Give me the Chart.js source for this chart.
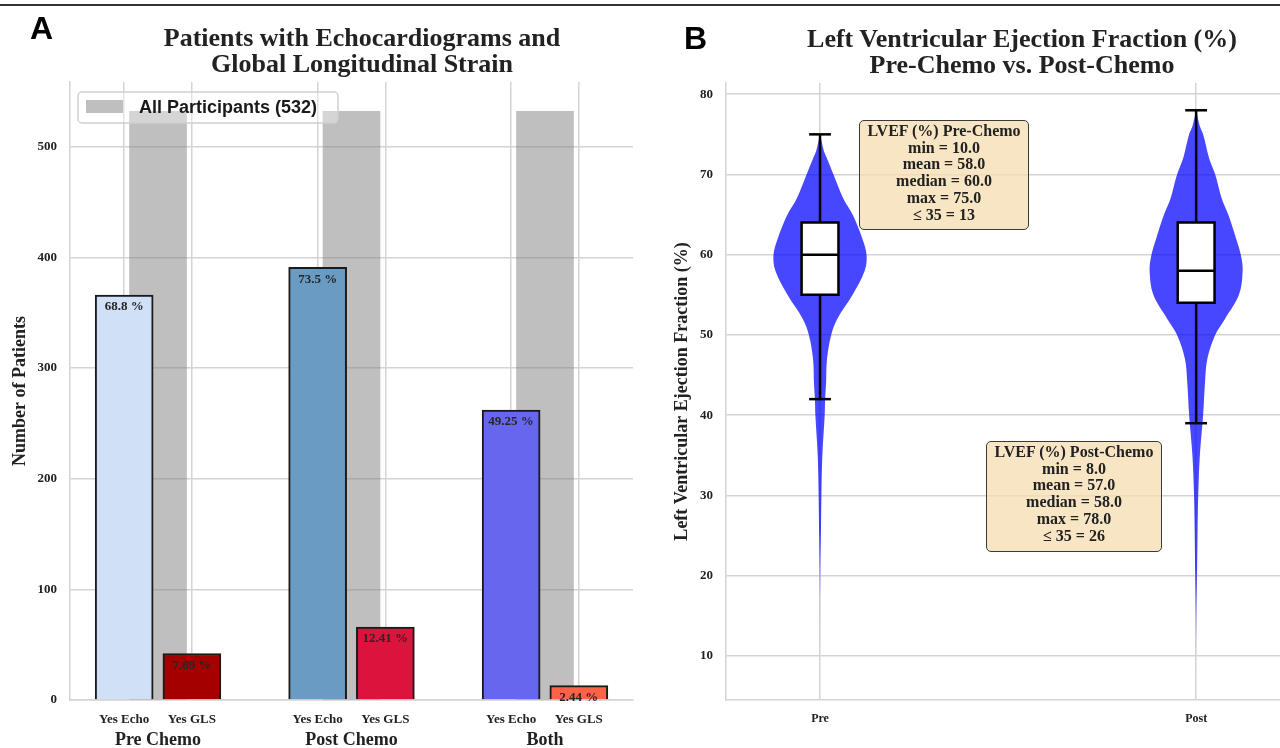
<!DOCTYPE html>
<html>
<head>
<meta charset="utf-8">
<script src="https://cdn.jsdelivr.net/npm/chart.js@4.4.1/dist/chart.umd.min.js"></script>
<style>
  body { margin: 0; background: #fff; }
  #fig { position: relative; width: 1280px; height: 748px; overflow: hidden; color: #222;
         font-family: 'Liberation Serif', 'Times New Roman', serif; }
  .rule { position: absolute; left: 0; top: 4px; width: 1280px; height: 2px; background: #333; }
  .panel { position: absolute; top: 0; width: 640px; height: 748px; }
  .letter { position: absolute; font: bold 32px 'Liberation Sans', Arial, sans-serif; line-height: 32px; color: #000; }
  .title { position: absolute; font: bold 26px 'Liberation Serif', serif; line-height: 26px;
           text-align: center; white-space: nowrap; transform: translateX(-50%); color: #222; }
  .stat { position: absolute; box-sizing: border-box; border: 1.5px solid #3a3a3a; border-radius: 5px;
          background: rgba(245, 222, 179, 0.78); font: bold 16px 'Liberation Serif', serif;
          line-height: 16.7px; text-align: center; padding-top: 2px; color: #222; }
</style>
</head>
<body>
<div id="fig">
  <div class="rule"></div>
  <div class="panel" style="left:0"><canvas id="chartA"></canvas></div>
  <div class="panel" style="left:640px"><canvas id="chartB"></canvas></div>
  <div class="letter" style="left:30px; top:12px">A</div>
  <div class="letter" style="left:684px; top:22px">B</div>
  <div class="title" style="left:362px; top:25px">Patients with Echocardiograms and<br>Global Longitudinal Strain</div>
  <div class="title" style="left:1022px; top:26px">Left Ventricular Ejection Fraction (%)<br>Pre-Chemo vs. Post-Chemo</div>
  <div class="stat" id="statPre" style="left:859px; top:120px; width:170px; height:110px"></div>
  <div class="stat" id="statPost" style="left:986px; top:441px; width:176px; height:111px"></div>
</div>

<script>
// ---------- panel A data ----------
const groups = ['Pre Chemo', 'Post Chemo', 'Both'];
const subLabels = ['Yes Echo', 'Yes GLS'];
const allParticipants = [532, 532, 532];
const echoCounts = [366, 391, 262];
const glsCounts = [42, 66, 13];
const echoPct = ['68.8 %', '73.5 %', '49.25 %'];
const glsPct = ['7.89 %', '12.41 %', '2.44 %'];
const countTicks = [0, 100, 200, 300, 400, 500];

// ---------- panel B data ----------
const lvefCats = ['Pre', 'Post'];
const lvefTicks = [10, 20, 30, 40, 50, 60, 70, 80];
const preLevels   = [75, 73, 72, 70, 67, 65, 62, 60, 58, 55, 52, 50, 47, 44, 42, 40, 35, 30, 25, 20, 15, 10];
const preDensity  = [0, .08, .15, .29, .5, .7, .91, 1, .96, .7, .37, .24, .15, .13, .11, .1, .05, .03, .02, .012, .006, 0];
const postLevels  = [78, 76, 75, 72, 70, 67, 65, 62, 60, 58, 55, 52, 50, 47, 44, 40, 35, 30, 25, 20, 15, 8];
const postDensity = [0, .08, .15, .28, .41, .55, .69, .86, .96, 1, .92, .62, .41, .24, .19, .15, .08, .045, .03, .02, .01, 0];
const q1 = [55, 54];
const medians = [60, 58];
const q3 = [64, 64];
const whiskLo = [42, 39];
const whiskHi = [75, 78];
const statTitles = ['LVEF (%) Pre-Chemo', 'LVEF (%) Post-Chemo'];
const statMin = [10, 8];
const statMean = [58, 57];
const statMedian = [60, 58];
const statMax = [75, 78];
const statLow = [13, 26];

// ---------- style ----------
const SERIF = "'Liberation Serif', 'Times New Roman', serif";
const SANS = "'Liberation Sans', Arial, sans-serif";
const INK = '#222';
const GRID = '#d4d4d4';
const EDGE = '#1a1a1a';
const echoColors = ['#d0e0f7', '#6a9bc3', '#6666ee'];
const glsColors = ['#a40000', '#dc143c', '#ff6347'];
const OFF = 0.175;

Chart.defaults.font.family = SERIF;
Chart.defaults.color = INK;
Chart.defaults.animation = false;
Chart.defaults.plugins.legend.display = false;
Chart.defaults.plugins.tooltip.enabled = false;

const tickFont = { family: SERIF, weight: 'bold', size: 13 };

// stat boxes
[['statPre', 0], ['statPost', 1]].forEach(([id, i]) => {
  const lines = [
    statTitles[i],
    'min = ' + statMin[i].toFixed(1),
    'mean = ' + statMean[i].toFixed(1),
    'median = ' + statMedian[i].toFixed(1),
    'max = ' + statMax[i].toFixed(1),
    '\u2264 35 = ' + statLow[i],
  ];
  document.getElementById(id).innerHTML = lines.map(t => '<div>' + t + '</div>').join('');
});

// ---------- A: bars ----------
const subPositions = groups.flatMap((g, i) => [i - OFF, i + OFF]);
const subTickLabels = groups.flatMap(() => subLabels);

const barLabels = {
  id: 'barLabels',
  afterDatasetsDraw(chart) {
    const ctx = chart.ctx;
    ctx.save();
    ctx.font = `bold 13px ${SERIF}`;
    ctx.fillStyle = '#262626';
    ctx.textAlign = 'center';
    ctx.textBaseline = 'middle';
    chart.data.datasets.forEach((ds, di) => {
      if (!ds.pct) return;
      chart.getDatasetMeta(di).data.forEach((bar, j) => ctx.fillText(ds.pct[j], bar.x, bar.y + 12));
    });
    ctx.restore();
  }
};

const boxLegend = {
  id: 'boxLegend',
  afterDatasetsDraw(chart) {
    const ds = chart.data.datasets[0];
    const { left, top } = chart.chartArea;
    const ctx = chart.ctx;
    const x = left + 8, y = top + 10, w = 260, h = 31;
    ctx.save();
    ctx.beginPath();
    ctx.roundRect(x, y, w, h, 4);
    ctx.fillStyle = 'rgba(255,255,255,0.35)';
    ctx.fill();
    ctx.strokeStyle = '#d0d0d0';
    ctx.lineWidth = 1.5;
    ctx.stroke();
    ctx.fillStyle = ds.backgroundColor;
    ctx.fillRect(x + 8, y + 8, 37, 13);
    ctx.fillStyle = '#1a1a1a';
    ctx.font = `bold 18px ${SANS}`;
    ctx.textBaseline = 'middle';
    ctx.fillText(ds.label, x + 61, y + h / 2 + 1);
    ctx.restore();
  }
};

new Chart(document.getElementById('chartA'), {
  type: 'bar',
  data: {
    datasets: [
      {
        label: `All Participants (${allParticipants[0]})`,
        data: allParticipants.map((v, i) => ({ x: i, y: v })),
        backgroundColor: 'rgba(128,128,128,0.5)',
        barThickness: 57, grouped: false, order: 2, xAxisID: 'x',
      },
      {
        label: subLabels[0],
        data: echoCounts.map((v, i) => ({ x: i - OFF, y: v })),
        backgroundColor: echoColors, borderColor: EDGE, borderWidth: 2,
        barThickness: 58, grouped: false, order: 1, xAxisID: 'x', pct: echoPct,
      },
      {
        label: subLabels[1],
        data: glsCounts.map((v, i) => ({ x: i + OFF, y: v })),
        backgroundColor: glsColors, borderColor: EDGE, borderWidth: 2,
        barThickness: 58, grouped: false, order: 1, xAxisID: 'x', pct: glsPct,
      },
    ]
  },
  options: {
    responsive: true,
    maintainAspectRatio: false,
    layout: { padding: { top: 82, right: 7, left: 0, bottom: 0 } },
    scales: {
      x: {
        type: 'linear', min: -0.455, max: 2.455, offset: false, weight: 0,
        grid: { color: GRID, lineWidth: 1.5, offset: false, drawTicks: false },
        border: { color: GRID, width: 1.5 },
        afterBuildTicks: ax => { ax.ticks = subPositions.map(v => ({ value: v })); },
        ticks: { callback: (v, i) => subTickLabels[i], font: tickFont, color: INK, padding: 12, autoSkip: false, maxRotation: 0 },
        afterFit: s => { s.height = 28; },
      },
      xg: {
        type: 'linear', position: 'bottom', min: -0.455, max: 2.455, offset: false, weight: 1,
        grid: { display: false, drawTicks: false },
        border: { display: false },
        afterBuildTicks: ax => { ax.ticks = groups.map((g, i) => ({ value: i })); },
        ticks: { callback: (v, i) => groups[i], font: { family: SERIF, weight: 'bold', size: 18 }, color: INK, padding: 2, autoSkip: false, maxRotation: 0 },
        afterFit: s => { s.height = 20; },
      },
      y: {
        min: 0, max: 558.6,
        grid: { color: GRID, lineWidth: 1.5, drawTicks: false },
        border: { color: GRID, width: 1.5 },
        afterBuildTicks: ax => { ax.ticks = countTicks.map(v => ({ value: v })); },
        ticks: { font: tickFont, color: INK, padding: 13 },
        title: { display: true, text: 'Number of Patients', font: { family: SERIF, weight: 'bold', size: 18 }, color: INK, padding: { top: 10, bottom: 0 } },
        afterFit: s => { s.width = 70; },
      }
    }
  },
  plugins: [barLabels, boxLegend]
});

// ---------- B: violins ----------
const VW = 0.1237;   // half-width of a violin at peak density, x units
const BW = 0.049;    // half-width of box
const CW = 0.029;    // half-width of whisker caps
const VIOLIN = 'rgba(0,0,255,0.72)';

function violinPath(i, levels, density) {
  const right = levels.map((v, k) => ({ x: i + density[k] * VW, y: v }));
  const left = levels.map((v, k) => ({ x: i - density[k] * VW, y: v })).reverse();
  return right.concat(left);
}

function fadeFill(fullAt, faintAt) {
  return (c) => {
    const chart = c.chart;
    const ys = chart.scales.y;
    if (!chart.chartArea || !ys) return VIOLIN;
    const g = chart.ctx.createLinearGradient(0, ys.getPixelForValue(fullAt), 0, ys.getPixelForValue(faintAt));
    g.addColorStop(0, VIOLIN);
    g.addColorStop(1, 'rgba(0,0,255,0.12)');
    return g;
  };
}

const lineSet = (pts, extra) => Object.assign({
  data: pts, showLine: true, pointRadius: 0, borderColor: '#000', borderWidth: 2.5, tension: 0, fill: false,
}, extra);

const violinSets = [];
[[preLevels, preDensity, 26, 17], [postLevels, postDensity, 21, 11]].forEach(([lv, dn, full, faint], i) => {
  violinSets.push(lineSet(violinPath(i, lv, dn), {
    borderWidth: 0, borderColor: 'rgba(0,0,0,0)', tension: 0.35, fill: 'shape',
    backgroundColor: fadeFill(full, faint), order: 5,
  }));
  violinSets.push(lineSet([{ x: i, y: whiskLo[i] }, { x: i, y: whiskHi[i] }], { order: 4 }));
  violinSets.push(lineSet([
    { x: i - BW, y: q1[i] }, { x: i + BW, y: q1[i] }, { x: i + BW, y: q3[i] },
    { x: i - BW, y: q3[i] }, { x: i - BW, y: q1[i] }
  ], { fill: 'shape', backgroundColor: '#fff', order: 3, borderCapStyle: 'square' }));
  violinSets.push(lineSet([{ x: i - BW, y: medians[i] }, { x: i + BW, y: medians[i] }], { order: 1 }));
  violinSets.push(lineSet([{ x: i - CW, y: whiskLo[i] }, { x: i + CW, y: whiskLo[i] }], { order: 1 }));
  violinSets.push(lineSet([{ x: i - CW, y: whiskHi[i] }, { x: i + CW, y: whiskHi[i] }], { order: 1 }));
});

new Chart(document.getElementById('chartB'), {
  type: 'scatter',
  data: { datasets: violinSets },
  options: {
    responsive: true,
    maintainAspectRatio: false,
    layout: { padding: { top: 83, right: 0, left: 0, bottom: 0 } },
    scales: {
      x: {
        type: 'linear', min: -0.25, max: 1.223,
        grid: { color: GRID, lineWidth: 1.5, drawTicks: false },
        border: { color: GRID, width: 1.5 },
        afterBuildTicks: ax => { ax.ticks = lvefCats.map((c, i) => ({ value: i })); },
        ticks: { callback: (v, i) => lvefCats[i], font: { family: SERIF, weight: 'bold', size: 12 }, color: INK, padding: 12, autoSkip: false, maxRotation: 0 },
        afterFit: s => { s.height = 48; },
      },
      y: {
        min: 4.5, max: 81.4,
        grid: { color: GRID, lineWidth: 1.5, drawTicks: false },
        border: { color: GRID, width: 1.5 },
        afterBuildTicks: ax => { ax.ticks = lvefTicks.map(v => ({ value: v })); },
        ticks: { font: tickFont, color: INK, padding: 13 },
        title: { display: true, text: 'Left Ventricular Ejection Fraction (%)', font: { family: SERIF, weight: 'bold', size: 18 }, color: INK, padding: { top: 32, bottom: 0 } },
        afterFit: s => { s.width = 86; },
      }
    }
  }
});
</script>
</body>
</html>
